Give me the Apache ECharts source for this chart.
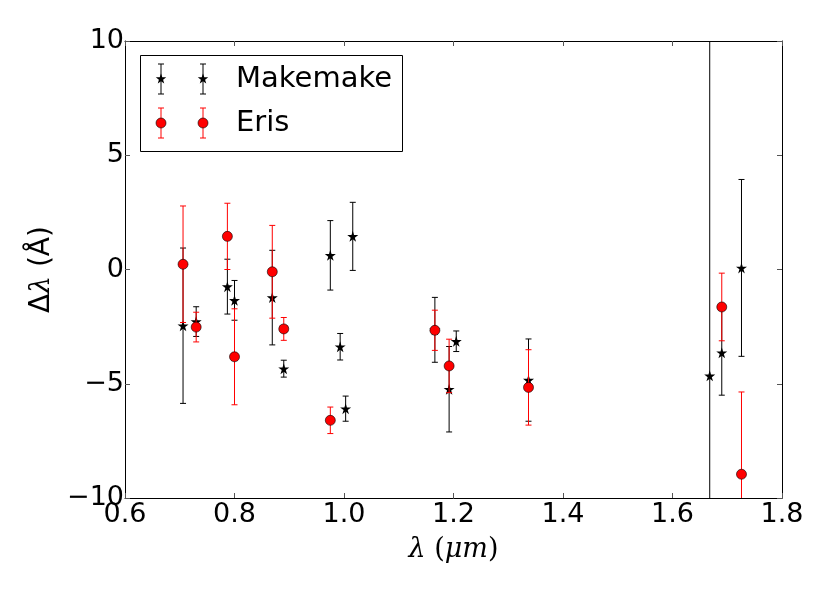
<!DOCTYPE html>
<html>
<head>
<meta charset="utf-8">
<script src="https://cdn.jsdelivr.net/npm/echarts@6/dist/echarts.min.js"></script>
<style>
  html, body { margin: 0; padding: 0; background: #fff; }
  #chart { width: 830px; height: 593px; }
</style>
</head>
<body>
<div id="chart"></div>
<script>
// Makemake: wavelength (um), shift (A), error
const makeX   = [0.706, 0.730, 0.787, 0.800, 0.869, 0.890, 0.975, 0.993, 1.003, 1.016, 1.166, 1.192, 1.205, 1.337, 1.668, 1.690, 1.726]
const makeY   = [-2.46, -2.28, -0.75, -1.35, -1.23, -4.34, 0.62, -3.38, -6.09, 1.45, -2.64, -5.24, -3.14, -4.84, -4.65, -3.64, 0.07]
const makeErr = [3.40, 0.65, 1.20, 0.87, 2.07, 0.37, 1.52, 0.58, 0.55, 1.49, 1.42, 1.87, 0.45, 1.80, 30, 1.86, 3.87]

// Eris
const erisX   = [0.706, 0.730, 0.787, 0.800, 0.869, 0.890, 0.975, 1.166, 1.192, 1.337, 1.690, 1.726]
const erisY   = [0.23, -2.52, 1.45, -3.82, -0.10, -2.60, -6.60, -2.66, -4.22, -5.16, -1.64, -8.96]
const erisErr = [2.55, 0.65, 1.45, 2.10, 2.03, 0.50, 0.58, 0.88, 1.17, 1.65, 1.48, 3.60]

const xTicks = [0.6, 0.8, 1.0, 1.2, 1.4, 1.6, 1.8]
const yTicks = [-10, -5, 0, 5, 10]

const STAR = 'path://M50,0 L61,35 L98,35 L68,57 L79,91 L50,70 L21,91 L32,57 L2,35 L39,35 Z'

const zip3 = (a, b, c) => a.map((v, i) => [v, b[i], c[i]])
const makeData = zip3(makeX, makeY, makeErr)
const erisData = zip3(erisX, erisY, erisErr)

// vertical error bar with caps, clipped to the plot area
function errBar(color) {
  return function (params, api) {
    const cs = params.coordSys
    const x = api.value(0), y = api.value(1), e = api.value(2)
    const top = api.coord([x, y + e])
    const bot = api.coord([x, y - e])
    const y0 = cs.y, y1 = cs.y + cs.height
    const ty = Math.max(top[1], y0), by = Math.min(bot[1], y1)
    const st = { stroke: color, lineWidth: 1 }
    const kids = [{ type: 'line', shape: { x1: top[0], y1: ty, x2: top[0], y2: by }, style: st }]
    if (top[1] >= y0) kids.push({ type: 'line', shape: { x1: top[0] - 3, y1: top[1], x2: top[0] + 3, y2: top[1] }, style: st })
    if (bot[1] <= y1) kids.push({ type: 'line', shape: { x1: bot[0] - 3, y1: bot[1], x2: bot[0] + 3, y2: bot[1] }, style: st })
    return { type: 'group', children: kids }
  }
}

// five-point star as polygon points, for the legend
function starPoints(cx, cy, r) {
  const pts = []
  for (let i = 0; i < 10; i++) {
    const rr = i % 2 ? r * 0.4 : r
    const a = -Math.PI / 2 + i * Math.PI / 5
    pts.push([cx + rr * Math.cos(a), cy + rr * Math.sin(a)])
  }
  return pts
}

const tickFont = { fontFamily: 'DejaVu Sans', fontSize: 27, color: '#000' }

// legend drawn by hand, matplotlib style (two markers per entry)
function legendMarker(cx, cy, kind) {
  const col = kind === 'star' ? '#000' : '#f00'
  const st = { stroke: col, lineWidth: 1 }
  const els = [
    { type: 'line', shape: { x1: cx, y1: cy - 15, x2: cx, y2: cy + 15 }, style: st },
    { type: 'line', shape: { x1: cx - 3, y1: cy - 15, x2: cx + 3, y2: cy - 15 }, style: st },
    { type: 'line', shape: { x1: cx - 3, y1: cy + 15, x2: cx + 3, y2: cy + 15 }, style: st }
  ]
  if (kind === 'star') {
    els.push({ type: 'polygon', shape: { points: starPoints(cx, cy, 5.5) }, style: { fill: '#000' } })
  } else {
    els.push({ type: 'circle', shape: { cx: cx, cy: cy, r: 5 }, style: { fill: '#f00', stroke: '#000', lineWidth: 0.6 } })
  }
  return els
}

const chart = echarts.init(document.getElementById('chart'), null, { renderer: 'canvas' })
chart.setOption({
  animation: false,
  backgroundColor: '#fff',
  grid: { left: 125, right: 48, top: 41, bottom: 95, containLabel: false },
  xAxis: [
    {
      type: 'value', min: 0.6, max: 1.8, interval: 0.2,
      axisLine: { show: true, onZero: false, lineStyle: { color: '#000', width: 1 } },
      axisTick: { show: true, inside: true, length: 5, lineStyle: { color: '#555' } },
      axisLabel: { ...tickFont, margin: 3, formatter: v => xTicks.includes(+v.toFixed(1)) ? v.toFixed(1) : '' },
      splitLine: { show: false },
      name: '{i|λ}{u| (}{i|μm}{u|)}',
      nameLocation: 'middle', nameGap: 38,
      nameTextStyle: {
        rich: {
          i: { fontFamily: 'DejaVu Serif', fontStyle: 'italic', fontSize: 27, color: '#000' },
          u: { fontFamily: 'DejaVu Serif', fontSize: 27, color: '#000' }
        }
      }
    },
    {
      type: 'value', min: 0.6, max: 1.8, interval: 0.2, position: 'top',
      axisLine: { show: true, onZero: false, lineStyle: { color: '#000', width: 1 } },
      axisTick: { show: true, inside: true, length: 5, lineStyle: { color: '#555' } },
      axisLabel: { show: false }, splitLine: { show: false }
    }
  ],
  yAxis: [
    {
      type: 'value', min: -10, max: 10, interval: 5,
      axisLine: { show: true, onZero: false, lineStyle: { color: '#000', width: 1 } },
      axisTick: { show: true, inside: true, length: 5, lineStyle: { color: '#555' } },
      axisLabel: { ...tickFont, margin: 1, formatter: v => yTicks.includes(v) ? String(v).replace('-', '\u2212') : '' },
      splitLine: { show: false },
      name: '{u|Δ}{i|λ}{u| (Å)}',
      nameLocation: 'middle', nameGap: 62, nameRotate: 90,
      nameTextStyle: {
        rich: {
          i: { fontFamily: 'DejaVu Serif', fontStyle: 'italic', fontSize: 28, color: '#000' },
          u: { fontFamily: 'DejaVu Sans', fontSize: 28, color: '#000' }
        }
      }
    },
    {
      type: 'value', min: -10, max: 10, interval: 5, position: 'right',
      axisLine: { show: true, onZero: false, lineStyle: { color: '#000', width: 1 } },
      axisTick: { show: true, inside: true, length: 5, lineStyle: { color: '#555' } },
      axisLabel: { show: false }, splitLine: { show: false }
    }
  ],
  series: [
    {
      name: 'Makemake err', type: 'custom', renderItem: errBar('#000'),
      data: makeData, encode: { x: 0, y: 1 }, z: 2, silent: true
    },
    {
      name: 'Makemake', type: 'scatter', data: makeData, symbol: STAR, symbolSize: 11,
      itemStyle: { color: '#000', opacity: 1 }, z: 3
    },
    {
      name: 'Eris err', type: 'custom', renderItem: errBar('#f00'),
      data: erisData, encode: { x: 0, y: 1 }, z: 4, silent: true
    },
    {
      name: 'Eris', type: 'scatter', data: erisData, symbol: 'circle', symbolSize: 10,
      itemStyle: { color: '#f00', borderColor: '#000', borderWidth: 0.6, opacity: 1 }, z: 5
    }
  ],
  graphic: [
    {
      type: 'group', z: 100,
      children: [
        { type: 'rect', shape: { x: 140.5, y: 55.5, width: 262, height: 96 }, style: { fill: '#fff', stroke: '#000', lineWidth: 1 } },
        ...legendMarker(161, 79, 'star'),
        ...legendMarker(203, 79, 'star'),
        ...legendMarker(161, 123, 'circle'),
        ...legendMarker(203, 123, 'circle'),
        { type: 'text', x: 236, y: 79, style: { text: 'Makemake', font: '29px "DejaVu Sans"', fill: '#000', verticalAlign: 'middle' } },
        { type: 'text', x: 236, y: 123, style: { text: 'Eris', font: '29px "DejaVu Sans"', fill: '#000', verticalAlign: 'middle' } }
      ]
    }
  ]
})
</script>
</body>
</html>
